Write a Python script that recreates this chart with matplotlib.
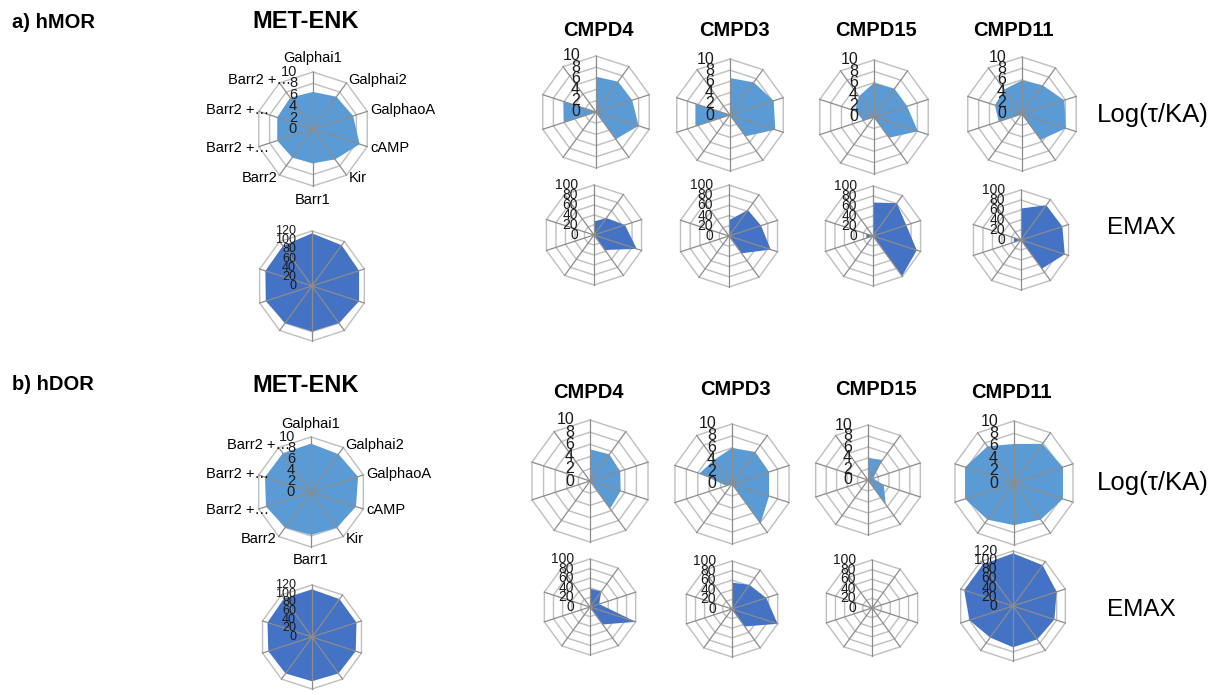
import numpy as np
import matplotlib
matplotlib.use("Agg")
import matplotlib.pyplot as plt

plt.rcParams['font.family'] = ['Liberation Sans', 'DejaVu Sans']

# ---- data -------------------------------------------------------------
pathways = ["Galphai1", "Galphai2", "GalphaoA", "cAMP", "Kir", "Barr1",
            "Barr2", "Barr2 +\u2026", "Barr2 +\u2026", "Barr2 +\u2026"]
compounds = ["CMPD4", "CMPD3", "CMPD15", "CMPD11"]

# hMOR, log(tau/KA)
mor_metenk_log = [6.5, 7.0, 7.4, 8.6, 6.6, 6.0, 6.2, 6.6, 6.6, 6.8]
mor_cmpd4_log = [6.3, 6.7, 6.8, 8.0, 6.0, 0, 0, 6.0, 6.1, 0]
mor_cmpd3_log = [6.6, 7.2, 8.2, 8.5, 4.7, 0, 0, 6.5, 6.5, 0]
mor_cmpd15_log = [6.0, 6.1, 6.1, 8.1, 4.5, 0, 0, 2.0, 3.5, 4.5]
mor_cmpd11_log = [5.9, 6.2, 7.8, 8.1, 5.6, 0, 0, 4.3, 5.0, 5.3]

# hMOR, EMAX
mor_metenk_emax = [115, 110, 108, 108, 100, 99, 100, 106, 107, 108]
mor_cmpd4_emax = [27, 42, 65, 90, 37, 0, 0, 0, 0, 0]
mor_cmpd3_emax = [31, 63, 66, 86, 42, 0, 0, 0, 0, 0]
mor_cmpd15_emax = [67, 81, 70, 92, 99, 0, 0, 14, 14, 0]
mor_cmpd11_emax = [63, 86, 87, 92, 71, 0, 0, 15, 15, 0]

# hDOR, log(tau/KA)
dor_metenk_log = [8.8, 8.5, 9.0, 8.6, 8.0, 7.8, 8.0, 8.6, 8.8, 8.7]
dor_cmpd4_log = [5.2, 5.4, 5.2, 5.3, 5.6, 0, 0, 0, 0, 0]
dor_cmpd3_log = [6.0, 6.6, 6.5, 6.5, 8.1, 0, 0, 1.0, 5.7, 5.0]
dor_cmpd15_log = [4.0, 4.5, 1.0, 3.0, 5.5, 0, 0, 0, 0, 0]
dor_cmpd11_log = [6.3, 7.8, 8.3, 8.3, 7.3, 6.8, 7.3, 8.3, 8.3, 7.3]

# hDOR, EMAX
dor_metenk_emax = [110, 108, 108, 106, 104, 102, 104, 106, 108, 110]
dor_cmpd4_emax = [38, 40, 20, 100, 45, 0, 0, 0, 0, 0]
dor_cmpd3_emax = [55, 62, 75, 100, 45, 0, 0, 0, 0, 0]
dor_cmpd15_emax = [2, 2, 2, 2, 2, 2, 2, 2, 2, 2]
dor_cmpd11_emax = [115, 110, 100, 95, 90, 90, 85, 100, 112, 112]

# ---- figure -----------------------------------------------------------
W, H = 1211, 695
fig = plt.figure(figsize=(W / 100, H / 100), dpi=100)
fig.patch.set_facecolor("white")

LOG_BLUE = "#5b9bd5"
EMAX_BLUE = "#4472c4"
RING = "#bfbfbf"
SPOKE = "#8c8c8c"


def radar(cx, cy, r, values, vmax, step, color, tick_fs, labels=None,
          tick_off=11.5):
    ax = fig.add_axes([(cx - r) / W, (H - cy - r) / H, 2 * r / W, 2 * r / H],
                      projection="polar")
    ax.set_theta_zero_location("N")
    ax.set_theta_direction(-1)
    ax.set_ylim(0, vmax)
    ax.axis("off")
    n = len(values)
    theta = np.arange(n) * 2 * np.pi / n
    th = np.append(theta, theta[0])
    for lev in np.arange(step, vmax + step / 2, step):
        ax.plot(th, [lev] * (n + 1), color=RING, lw=1.0, zorder=1,
                clip_on=False)
    vals = np.append(values, values[0])
    ax.fill(th, vals, color=color, lw=0, zorder=2)
    for t in theta:
        ax.plot([t, t], [0, vmax], color=SPOKE, lw=0.9, zorder=3,
                clip_on=False)
    for lev in np.arange(0, vmax + step / 2, step):
        ax.annotate(f"{lev:g}", xy=(0, lev), xytext=(-tick_off, 0),
                    textcoords="offset points", ha="right", va="center",
                    fontsize=tick_fs, color="#1a1a1a", zorder=5,
                    annotation_clip=False)
    if labels is not None:
        for i, (t, lab) in enumerate(zip(theta, labels)):
            deg = np.degrees(t)
            if deg == 0 or deg == 180:
                ax.annotate(lab, xy=(t, vmax * 1.24), ha="center",
                            va="center", fontsize=10.5, annotation_clip=False)
            elif deg < 180:
                ax.annotate(lab, xy=(t, vmax * 1.06), ha="left",
                            va="center", fontsize=10.5, annotation_clip=False)
            else:
                dx = 0 if i == 6 else 10
                ax.annotate(lab, xy=(t, vmax * 1.06), xytext=(dx, 0),
                            textcoords="offset points", ha="right",
                            va="center", fontsize=10.5, annotation_clip=False)
    return ax


# hMOR block
radar(313, 129, 57, mor_metenk_log, 10, 2, LOG_BLUE, 10.5, labels=pathways)
radar(312, 286, 55, mor_metenk_emax, 120, 20, EMAX_BLUE, 9)

mor_log = [mor_cmpd4_log, mor_cmpd3_log, mor_cmpd15_log, mor_cmpd11_log]
mor_emax = [mor_cmpd4_emax, mor_cmpd3_emax, mor_cmpd15_emax, mor_cmpd11_emax]
for (cx, cy, r), vals in zip([(596, 112, 56), (730, 115, 56), (874, 117, 57),
                              (1022, 114, 57)], mor_log):
    radar(cx, cy, r, vals, 10, 2, LOG_BLUE, 11.5)
for (cx, cy, r), vals in zip([(594, 235, 50), (729, 236, 51), (873, 236, 50),
                              (1021, 240, 50)], mor_emax):
    radar(cx, cy, r, vals, 100, 20, EMAX_BLUE, 10)

# hDOR block
radar(311, 492, 55, dor_metenk_log, 10, 2, LOG_BLUE, 10.5, labels=pathways)
radar(312, 637, 52, dor_metenk_emax, 120, 20, EMAX_BLUE, 9)

dor_log = [dor_cmpd4_log, dor_cmpd3_log, dor_cmpd15_log, dor_cmpd11_log]
dor_emax = [dor_cmpd4_emax, dor_cmpd3_emax, dor_cmpd15_emax, dor_cmpd11_emax]
for (cx, cy, r), vals in zip([(590, 481, 61), (732, 484, 60), (868, 480, 55),
                              (1014, 483, 62)], dor_log):
    radar(cx, cy, r, vals, 10, 2, LOG_BLUE, 11.5)
for (cx, cy, r, vmax), vals in zip([(590, 607, 48, 100), (732, 609, 48, 100),
                                    (872, 608, 48, 100), (1013, 606, 55, 120)],
                                   dor_emax):
    radar(cx, cy, r, vals, vmax, 20, EMAX_BLUE, 10)


def ftext(x, y, s, **kw):
    fig.text(x / W, 1 - y / H, s, **kw)


ftext(12, 22, "a) hMOR", fontsize=14.5, fontweight="bold", va="center")
ftext(12, 385, "b) hDOR", fontsize=14.5, fontweight="bold", va="center")
ftext(306, 22, "MET-ENK", fontsize=17, fontweight="bold", ha="center",
      va="center")
ftext(306, 385, "MET-ENK", fontsize=17, fontweight="bold", ha="center",
      va="center")
for x, name in zip([598, 734, 876, 1013], compounds):
    ftext(x, 30, name, fontsize=14.5, fontweight="bold", ha="center",
          va="center")
for x, y, name in zip([588, 735, 876, 1011], [392, 390, 390, 393], compounds):
    ftext(x, y, name, fontsize=14.5, fontweight="bold", ha="center",
          va="center")

ftext(1153, 115, "Log(\u03c4/KA)", fontsize=18.5, ha="center", va="center")
ftext(1141, 228, "EMAX", fontsize=17.5, ha="center", va="center")
ftext(1153, 483, "Log(\u03c4/KA)", fontsize=18.5, ha="center", va="center")
ftext(1141, 610, "EMAX", fontsize=17.5, ha="center", va="center")

fig.savefig("out.png", dpi=100, facecolor="white")
